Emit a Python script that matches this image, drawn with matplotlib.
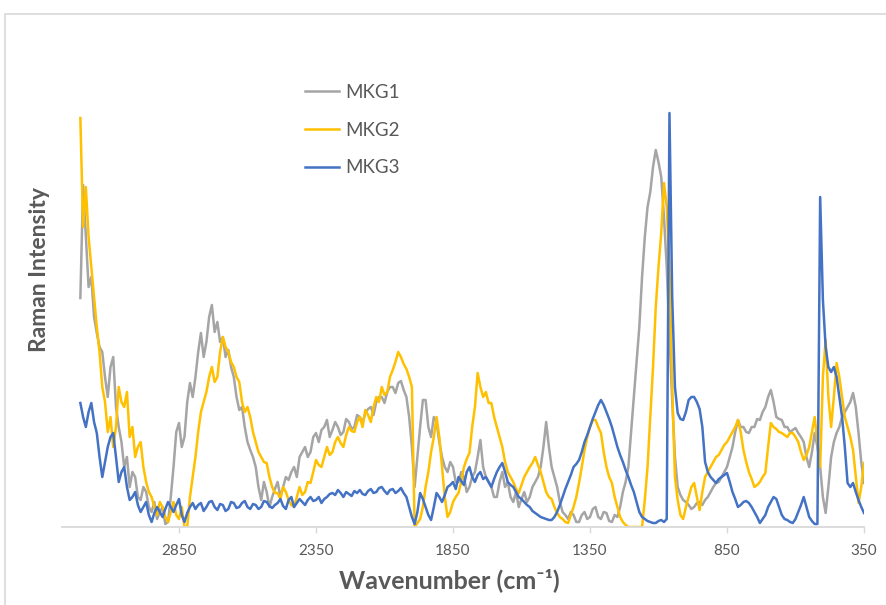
import numpy as np
import matplotlib
matplotlib.use("Agg")
import matplotlib.pyplot as plt
from matplotlib.patches import Rectangle

# Wavenumber grid (cm-1): 3210 down to 350, 10 cm-1 steps (287 points)
wavenumber = list(range(3210, 349, -10))

mkg1 = [229, 342, 290, 240, 250, 210, 194, 180, 175, 150,
        130, 160, 170, 120, 100, 85, 60, 70, 40, 55,
        50, 30, 27, 40, 35, 20, 15, 25, 8, 15,
        20, 3, 5, 30, 60, 95, 104, 80, 90, 125,
        144, 130, 150, 175, 194, 170, 185, 210, 222, 195,
        205, 185, 190, 170, 177, 160, 150, 130, 117, 120,
        100, 85, 77, 70, 60, 40, 27, 45, 35, 20,
        30, 38, 45, 30, 40, 50, 47, 55, 60, 50,
        70, 75, 80, 70, 75, 90, 94, 85, 97, 100,
        107, 90, 97, 105, 100, 92, 95, 108, 105, 98,
        100, 112, 110, 104, 114, 118, 120, 112, 125, 130,
        130, 124, 135, 140, 140, 134, 144, 146, 137, 130,
        110, 80, 40, 70, 100, 127, 127, 100, 90, 110,
        105, 85, 70, 60, 55, 65, 60, 45, 45, 55,
        50, 35, 40, 50, 55, 70, 87, 60, 50, 45,
        40, 30, 30, 45, 55, 40, 45, 30, 25, 35,
        20, 28, 35, 25, 30, 40, 45, 50, 60, 80,
        105, 80, 60, 50, 40, 25, 15, 12, 8, 15,
        12, 5, 5, 12, 15, 8, 10, 18, 20, 10,
        8, 15, 14, 6, 5, 12, 10, 20, 35, 45,
        60, 95, 130, 165, 200, 250, 290, 320, 335, 360,
        377, 365, 350, 310, 260, 190, 127, 70, 40, 32,
        27, 25, 22, 18, 20, 24, 25, 22, 27, 30,
        35, 40, 44, 45, 50, 55, 60, 70, 80, 95,
        107, 100, 100, 95, 94, 100, 100, 108, 107, 115,
        120, 130, 137, 125, 110, 108, 107, 100, 100, 95,
        97, 99, 94, 90, 85, 70, 60, 75, 94, 80,
        60, 30, 14, 40, 70, 85, 94, 100, 110, 115,
        120, 125, 134, 120, 94, 65, 44]

mkg2 = [409, 300, 340, 290, 260, 230, 200, 175, 140, 125,
        95, 110, 80, 100, 140, 125, 120, 135, 90, 100,
        70, 80, 85, 60, 45, 35, 30, 20, 12, 25,
        20, 10, 5, 15, 25, 12, 8, 20, 0, 0,
        30, 50, 70, 95, 115, 125, 135, 150, 160, 145,
        150, 175, 190, 180, 175, 165, 160, 150, 145, 125,
        115, 120, 110, 95, 85, 75, 70, 65, 64, 50,
        40, 34, 34, 28, 40, 35, 27, 22, 20, 30,
        40, 32, 35, 45, 44, 55, 67, 62, 60, 70,
        80, 72, 75, 85, 90, 84, 80, 92, 100, 96,
        95, 105, 110, 100, 117, 112, 105, 120, 130, 125,
        140, 132, 135, 150, 157, 165, 175, 170, 163, 158,
        150, 140, 0, 4, 8, 20, 40, 55, 75, 90,
        110, 90, 60, 30, 10, 15, 25, 30, 34, 45,
        60, 68, 74, 100, 120, 154, 140, 130, 135, 124,
        124, 110, 100, 90, 80, 65, 55, 50, 45, 38,
        34, 42, 50, 55, 60, 64, 70, 62, 55, 45,
        35, 30, 28, 20, 14, 10, 8, 5, 4, 12,
        20, 30, 44, 60, 77, 90, 100, 107, 107, 100,
        94, 75, 60, 50, 44, 30, 20, 10, 5, 2,
        0, 0, 0, 0, 0, 0, 27, 60, 110, 160,
        220, 260, 294, 344, 320, 260, 140, 50, 27, 12,
        8, 20, 30, 40, 44, 30, 17, 35, 50, 55,
        60, 65, 70, 72, 77, 82, 85, 90, 95, 100,
        107, 95, 77, 65, 55, 48, 40, 42, 45, 50,
        54, 80, 104, 100, 98, 95, 94, 92, 90, 94,
        94, 90, 85, 75, 67, 72, 80, 95, 110, 85,
        60, 150, 187, 130, 100, 130, 164, 150, 130, 110,
        100, 90, 77, 50, 24, 40, 64]

mkg3 = [124, 110, 100, 115, 124, 105, 94, 70, 50, 65,
        80, 90, 94, 70, 45, 55, 60, 40, 27, 30,
        35, 22, 15, 20, 25, 12, 5, 14, 20, 15,
        10, 18, 25, 20, 15, 22, 28, 12, 5, 14,
        20, 24, 18, 22, 24, 16, 20, 25, 26, 20,
        17, 23, 22, 16, 18, 25, 24, 19, 20, 24,
        26, 20, 18, 23, 22, 18, 20, 26, 25, 21,
        19, 22, 24, 28, 21, 18, 27, 30, 20, 24,
        28, 25, 22, 27, 30, 26, 27, 30, 24, 28,
        30, 33, 34, 32, 37, 34, 30, 35, 33, 31,
        36, 34, 37, 33, 32, 36, 38, 34, 35, 39,
        40, 36, 33, 37, 38, 34, 36, 39, 34, 30,
        20, 10, 3, 15, 34, 28, 20, 12, 7, 20,
        34, 30, 25, 32, 40, 42, 45, 38, 50, 46,
        42, 55, 60, 50, 45, 52, 55, 48, 50, 45,
        40, 48, 55, 60, 64, 55, 45, 42, 40, 35,
        30, 28, 25, 22, 20, 16, 14, 12, 10, 9,
        8, 7, 7, 10, 15, 22, 30, 38, 45, 52,
        60, 63, 67, 75, 85, 92, 100, 108, 115, 122,
        127, 122, 115, 108, 100, 90, 80, 72, 65, 57,
        50, 42, 35, 25, 15, 10, 8, 6, 5, 4,
        4, 6, 7, 5, 8, 414, 230, 140, 114, 108,
        107, 115, 127, 130, 130, 125, 118, 100, 65, 55,
        50, 47, 44, 48, 50, 52, 54, 45, 35, 28,
        20, 22, 25, 26, 24, 20, 15, 10, 4, 8,
        12, 20, 25, 30, 28, 20, 12, 8, 7, 5,
        4, 8, 15, 22, 30, 20, 10, 6, 3, 3,
        330, 227, 180, 160, 155, 160, 150, 130, 110, 80,
        44, 40, 44, 35, 27, 20, 14]

series_names = ["MKG1", "MKG2", "MKG3"]
series_colors = ["#A5A5A5", "#FFC000", "#4472C4"]
x_ticks = [2850, 2350, 1850, 1350, 850, 350]

plt.rcParams['font.family'] = ['Lato', 'DejaVu Sans']

fig = plt.figure(figsize=(8.86, 6.05), dpi=100)
ax = fig.add_axes([62 / 886, 1 - 527 / 605, (864 - 62) / 886, (527 - 40) / 605])

# light outer frame
fig.patches.append(Rectangle((5 / 886, -0.1), 1.2, 1 - 14 / 605 + 0.1,
                             transform=fig.transFigure, fill=False,
                             edgecolor="#D9D9D9", linewidth=1.2))

for vals, name, col in zip([mkg1, mkg2, mkg3], series_names, series_colors):
    ax.plot(wavenumber[:len(vals)], vals, color=col, lw=1.8, label=name,
            solid_joinstyle="round")

ax.set_xlim(3277, 350)
ax.set_ylim(0, 487)
ax.set_xticks(x_ticks)
ax.set_xticklabels([str(t) for t in x_ticks])
ax.set_yticks([])
for s in ["top", "right", "left"]:
    ax.spines[s].set_visible(False)
ax.spines["bottom"].set_color("#D9D9D9")
ax.spines["bottom"].set_linewidth(1.3)
ax.tick_params(axis="x", colors="#595959", labelsize=11, length=4,
               width=1, color="#D9D9D9", pad=8)

ax.set_xlabel("Wavenumber (cm\u207B\u00B9)", fontsize=18, color="#595959",
              fontweight="bold")
ax.xaxis.set_label_coords(0.483, -0.085)
ax.set_ylabel("Raman Intensity", fontsize=16.5, color="#595959",
              fontweight="bold")
ax.yaxis.set_label_coords(-0.015, 0.528)

leg = ax.legend(loc="upper left", bbox_to_anchor=(288 / 886, 1 - 67 / 605),
                bbox_transform=fig.transFigure, frameon=False, fontsize=13.5,
                labelspacing=1.1, handlelength=1.8, handletextpad=0.35)
for t in leg.get_texts():
    t.set_color("#595959")

fig.savefig("out.png", dpi=100)
